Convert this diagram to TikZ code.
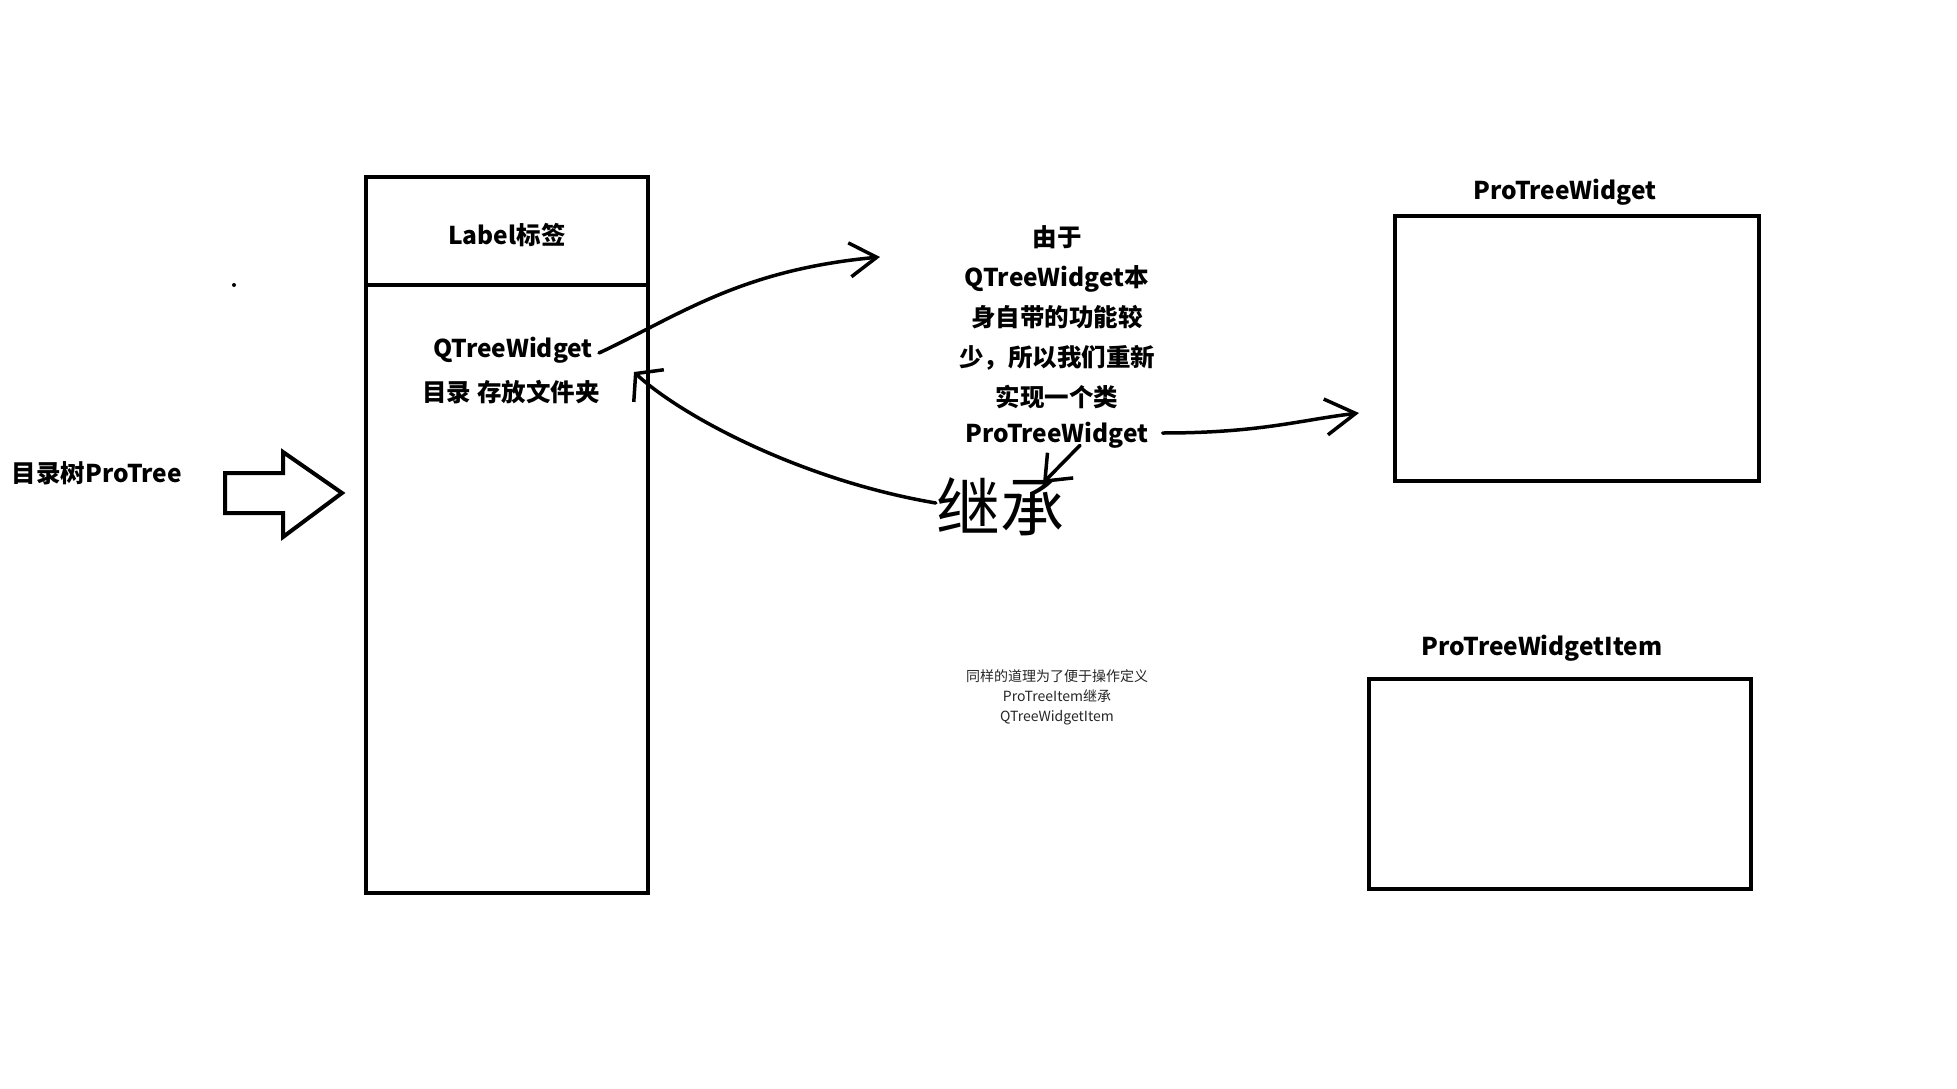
\documentclass[tikz,border=0pt]{standalone}
\usepackage{fontspec}
\setmainfont{Noto Sans CJK SC}
\usepackage{xcolor}
\usepackage{tikz}
\usetikzlibrary{calc, arrows.meta}

\begin{document}
\begin{tikzpicture}[x=1pt, y=-1pt,
  box/.style={draw, line width=4.5pt},
  lbl/.style={font=\fontsize{24.5}{40}\selectfont\bfseries, inner sep=0pt},
  note/.style={font=\fontsize{14}{20}\selectfont, text=black!85, align=center, inner sep=0pt},
  pen/.style={line width=3.5pt, line cap=round, line join=round}]
  \useasboundingbox (0,0) rectangle (1957,1089);
  % left panel
  \draw[box] (366,177) rectangle (648,893);
  \draw[box] (366,285) -- (648,285);
  \node[lbl] (label) at (507,235) {Label标签};
  \node[lbl] (qtw) at (513,350) {QTreeWidget};
  \node[lbl] (dir) at (511,392) {目录 存放文件夹};
  \node[lbl] (protree) at (97,473) {目录树ProTree};
  \fill (234,285) circle (2);
  \draw[line width=4pt] (225,473) -- (283,473) -- (283,452) -- (342,493)
    -- (283,537) -- (283,513) -- (225,513) -- cycle;
  % middle text
  \node[lbl, align=center] (reason) at (1057,317)
  {由于\\QTreeWidget本\\身自带的功能较\\少，所以我们重新\\实现一个类};
  \node[lbl] (ptw) at (1057,435) {ProTreeWidget};
  \node[font=\fontsize{64}{64}\selectfont, inner sep=0pt] (inherit) at (1000,507) {继承};
  \node[note] (same) at (1057,697) {同样的道理为了便于操作定义\\ProTreeItem继承\\QTreeWidgetItem};
  % right boxes
  \node[box, minimum width=364pt, minimum height=265pt] (widgetbox) at (1577,348.5) {};
  \node[lbl] (widgettitle) at (1565,192) {ProTreeWidget};
  \node[box, minimum width=382pt, minimum height=210pt] (itembox) at (1560,784) {};
  \node[lbl] (itemtitle) at (1542,648) {ProTreeWidgetItem};
  % hand drawn arrows
  \coordinate (qtwtip) at (880,257);
  \coordinate (dirtip) at (634,372);
  \coordinate (widgettip) at (1359,413);
  \coordinate (inherittip) at (1043,483);
  \draw[pen, -{Straight Barb[length=27pt, width=34pt]}]
    ($(qtw.east)+(6,3)$) .. controls (680,315) and (740,270) .. (qtwtip);
  \draw[pen, -{Straight Barb[length=18pt, width=44pt]}]
    ($(inherit.west)+(0,-4)$) .. controls (800,480) and (680,415) .. (dirtip);
  \draw[pen, -{Straight Barb[length=30pt, width=36pt]}]
    ($(ptw.east)+(14,-2)$) .. controls (1260,433) and (1300,420) .. (widgettip);
  \draw[pen, -{Straight Barb[length=22pt, width=36pt]}]
    ($(ptw.south)+(23,-3)$) -- (inherittip);
\end{tikzpicture}
\end{document}
